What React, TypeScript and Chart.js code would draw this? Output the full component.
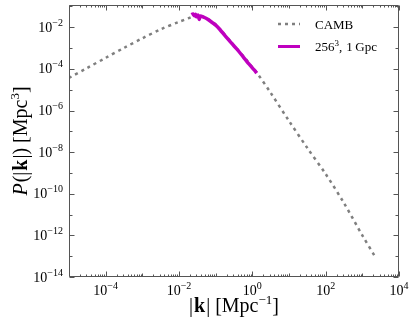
import React, { useEffect, useRef } from "react";
import { Chart, registerables } from "chart.js";

Chart.register(...registerables);

// CAMB linear power spectrum (k in 1/Mpc, P in Mpc^3)
const cambK = [
  1e-5, 3.16e-5, 1e-4, 3.16e-4, 1e-3, 3.16e-3, 1e-2, 1.78e-2, 2.51e-2, 3.55e-2,
  5.01e-2, 7.08e-2, 0.1, 0.132, 0.251, 0.38, 0.631, 1.0, 1.35, 3.16, 10, 31.6,
  100, 316, 1000, 2188,
];
const cambP = [
  3.72e-5, 1.12e-4, 3.39e-4, 1.02e-3, 2.95e-3, 7.94e-3, 1.82e-2, 2.69e-2, 3.39e-2, 3.63e-2,
  3.02e-2, 2.19e-2, 1.38e-2, 7.94e-3, 2.19e-3, 9.12e-4, 3.31e-4, 1.2e-4, 6.31e-5, 7.08e-6,
  3.16e-7, 1.58e-8, 8.91e-10, 3.55e-11, 1.0e-12, 1.0e-13,
];

// measured spectrum, 256^3 particles in 1 Gpc box
const simK = [
  0.0219, 0.024, 0.0263, 0.0282, 0.0302, 0.0331, 0.0355, 0.038, 0.0447, 0.0562,
  0.0708, 0.1, 0.132, 0.2, 0.282, 0.38, 0.562, 0.794, 1.122, 1.318,
];
const simP = [
  0.0398, 0.0437, 0.0355, 0.0417, 0.0316, 0.038, 0.024, 0.0347, 0.0316, 0.0263,
  0.02, 0.0126, 7.59e-3, 3.16e-3, 1.58e-3, 8.91e-4, 3.8e-4, 1.78e-4, 8.91e-5, 6.31e-5,
];

const xTickExps = [-4, -2, 0, 2, 4];
const yTickExps = [-2, -4, -6, -8, -10, -12, -14];
const xMin = 1e-5;
const xMax = 1e4;
const yMin = 1e-14;
const yMax = Math.pow(10, -0.93);

const legendLabels = ["CAMB", "256|3|, 1 Gpc"];

const SERIF = '"Liberation Serif", "Times New Roman", serif';
const GRAY = "#7f7f7f";
const MAGENTA = "#bf00bf";

type Seg = { t: string; size: number; style?: string; weight?: string; rise?: number; gap?: number };

function fontOf(s: Seg) {
  return `${s.style || "normal"} ${s.weight || "normal"} ${s.size}px ${SERIF}`;
}
function measureSegs(ctx: CanvasRenderingContext2D, segs: Seg[]) {
  let w = 0;
  for (const s of segs) {
    ctx.font = fontOf(s);
    w += ctx.measureText(s.t).width + (s.gap || 0);
  }
  return w;
}
function drawSegs(ctx: CanvasRenderingContext2D, segs: Seg[], x: number, y: number) {
  let cx = x;
  for (const s of segs) {
    ctx.font = fontOf(s);
    ctx.fillText(s.t, cx, y - (s.rise || 0));
    cx += ctx.measureText(s.t).width + (s.gap || 0);
  }
}
function powSegs(exp: number): Seg[] {
  const e = exp < 0 ? "\u2212" + Math.abs(exp) : String(exp);
  return [
    { t: "10", size: 14 },
    { t: e, size: 10, rise: 6 },
  ];
}

const decorPlugin = {
  id: "decor",
  afterDraw(chart: any) {
    const { ctx, chartArea: a, scales } = chart;
    const xs = scales.x;
    const ys = scales.y;
    ctx.save();
    ctx.strokeStyle = "#555";
    ctx.lineWidth = 1;
    const L = Math.round(a.left) + 0.5;
    const R = Math.round(a.right) - 0.5;
    const T = Math.round(a.top) + 0.5;
    const B = Math.round(a.bottom) - 0.5;
    ctx.beginPath();
    ctx.rect(L, T, R - L, B - T);
    ctx.stroke();

    // x ticks
    ctx.beginPath();
    for (let e = -5; e <= 4; e++) {
      for (let s = 1; s <= 9; s++) {
        const v = s * Math.pow(10, e);
        if (v < xMin * 0.999 || v > xMax * 1.001) continue;
        const px = Math.round(xs.getPixelForValue(v)) + 0.5;
        const len = s === 1 ? (xTickExps.includes(e) ? 5 : 3) : 2;
        ctx.moveTo(px, B);
        ctx.lineTo(px, B - len);
        ctx.moveTo(px, T);
        ctx.lineTo(px, T + len);
      }
    }
    // y ticks
    for (let e = -14; e <= -1; e++) {
      const v = Math.pow(10, e);
      const py = Math.round(ys.getPixelForValue(v)) + 0.5;
      const len = yTickExps.includes(e) ? 5 : 3;
      ctx.moveTo(L, py);
      ctx.lineTo(L + len, py);
      ctx.moveTo(R, py);
      ctx.lineTo(R - len, py);
    }
    ctx.stroke();

    ctx.fillStyle = "#000";
    ctx.textBaseline = "alphabetic";
    ctx.textAlign = "left";
    // x tick labels
    for (const e of xTickExps) {
      const px = xs.getPixelForValue(Math.pow(10, e));
      const segs = powSegs(e);
      const w = measureSegs(ctx, segs);
      drawSegs(ctx, segs, px - w / 2, a.bottom + 18);
    }
    // y tick labels
    for (const e of yTickExps) {
      const py = ys.getPixelForValue(Math.pow(10, e));
      const segs = powSegs(e);
      const w = measureSegs(ctx, segs);
      drawSegs(ctx, segs, a.left - 6 - w, py + 4.5);
    }

    // x title
    const xt: Seg[] = [
      { t: "|", size: 20, gap: 1 },
      { t: "k", size: 20, weight: "bold", gap: 1 },
      { t: "|", size: 20 },
      { t: " [Mpc", size: 20 },
      { t: "\u22121", size: 13, rise: 8 },
      { t: "]", size: 20 },
    ];
    const xw = measureSegs(ctx, xt);
    drawSegs(ctx, xt, (a.left + a.right) / 2 - xw / 2, a.bottom + 35);

    // y title
    const yt: Seg[] = [
      { t: "P", size: 20, style: "italic", gap: 1 },
      { t: "(", size: 20 },
      { t: "|", size: 20, gap: 1 },
      { t: "k", size: 20, weight: "bold", gap: 1 },
      { t: "|", size: 20 },
      { t: ")", size: 20 },
      { t: " [Mpc", size: 20 },
      { t: "3", size: 13, rise: 8 },
      { t: "]", size: 20 },
    ];
    const yw = measureSegs(ctx, yt);
    ctx.save();
    ctx.translate(27, (a.top + a.bottom) / 2);
    ctx.rotate(-Math.PI / 2);
    drawSegs(ctx, yt, -yw / 2, 0);
    ctx.restore();

    // legend
    const lx0 = 278;
    const lx1 = 300;
    const ly = [24, 46.5];
    ctx.lineCap = "butt";
    ctx.beginPath();
    ctx.strokeStyle = GRAY;
    ctx.lineWidth = 2.5;
    ctx.setLineDash([3, 4]);
    ctx.moveTo(lx0, ly[0]);
    ctx.lineTo(lx1, ly[0]);
    ctx.stroke();
    ctx.setLineDash([]);
    ctx.beginPath();
    ctx.strokeStyle = MAGENTA;
    ctx.lineWidth = 3;
    ctx.moveTo(lx0, ly[1]);
    ctx.lineTo(lx1, ly[1]);
    ctx.stroke();

    ctx.fillStyle = "#000";
    drawSegs(ctx, [{ t: legendLabels[0], size: 13 }], 315, ly[0] + 4.5);
    const parts = legendLabels[1].split("|");
    drawSegs(
      ctx,
      [
        { t: parts[0], size: 13 },
        { t: parts[1], size: 9, rise: 5 },
        { t: parts[2].split(" ")[0], size: 13, gap: 4 },
        { t: parts[2].split(" ")[1], size: 13, gap: 2.5 },
        { t: parts[2].split(" ")[2], size: 13 },
      ],
      315,
      ly[1] + 4.5
    );
    ctx.restore();
  },
};

export default function App() {
  const ref = useRef<HTMLCanvasElement | null>(null);
  useEffect(() => {
    if (!ref.current) return;
    const chart = new Chart(ref.current, {
      type: "line",
      data: {
        datasets: [
          {
            label: "CAMB",
            data: cambK.map((k, i) => ({ x: k, y: cambP[i] })),
            borderColor: GRAY,
            borderWidth: 2.5,
            borderDash: [3, 4],
            pointRadius: 0,
            tension: 0.3,
            fill: false,
            order: 2,
          },
          {
            label: "256^3, 1 Gpc",
            data: simK.map((k, i) => ({ x: k, y: simP[i] })),
            borderColor: MAGENTA,
            borderWidth: 3.5,
            pointRadius: 0,
            tension: 0.2,
            fill: false,
            order: 1,
          },
        ],
      },
      options: {
        animation: false,
        responsive: true,
        maintainAspectRatio: false,
        layout: { padding: { left: 69, right: 16, top: 5, bottom: 55 } },
        plugins: { legend: { display: false }, tooltip: { enabled: false } },
        scales: {
          x: { type: "logarithmic", min: xMin, max: xMax, display: false },
          y: { type: "logarithmic", min: yMin, max: yMax, display: false },
        },
      },
      plugins: [decorPlugin],
    });
    return () => chart.destroy();
  }, []);
  return (
    <div style={{ position: "fixed", left: 0, top: 0, width: 415, height: 332, background: "#fff" }}>
      <canvas ref={ref} />
    </div>
  );
}
